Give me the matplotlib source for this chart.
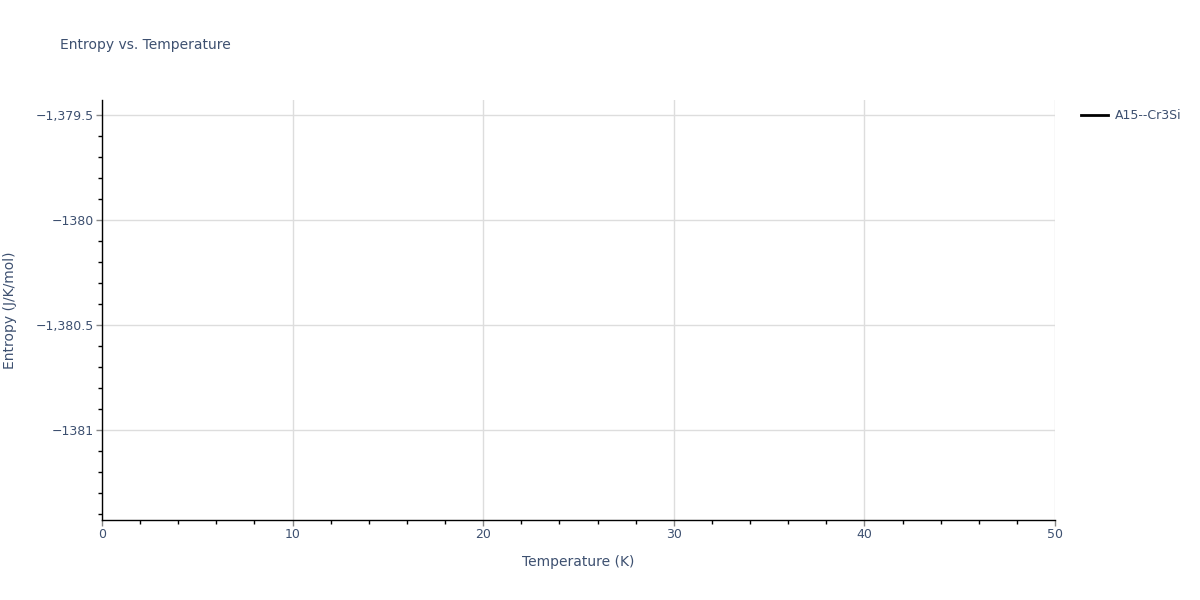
import matplotlib
matplotlib.use('Agg')
import matplotlib.pyplot as plt
from matplotlib.ticker import FixedLocator, MultipleLocator

# data: a single point, so the line draws nothing visible
temperature = [0.0]
entropy = [-1380.4286]
series_name = 'A15--Cr3Si'

x_ticks = [0, 10, 20, 30, 40, 50]
y_ticks = [-1381.0, -1380.5, -1380.0, -1379.5]
y_labels = ['\u22121381', '\u22121,380.5', '\u22121380', '\u22121,379.5']

txt = '#3d5070'
plt.rcParams['font.family'] = ['DejaVu Sans']

fig = plt.figure(figsize=(12, 6), dpi=100)
ax = fig.add_axes([102 / 1200, 1 - 520 / 600, (1055 - 102) / 1200, 420 / 600])

ax.plot(temperature, entropy, color='black', lw=2, label=series_name)

ax.set_xlim(0, 50)
ax.set_ylim(-1381.4286, -1379.4286)
ax.xaxis.set_major_locator(FixedLocator(x_ticks))
ax.xaxis.set_minor_locator(MultipleLocator(2))
ax.yaxis.set_major_locator(FixedLocator(y_ticks))
ax.yaxis.set_minor_locator(MultipleLocator(0.1))
ax.set_yticklabels(y_labels)
ax.set_xticklabels([str(t) for t in x_ticks])

ax.grid(True, which='major', color='#dddddd', lw=1)
ax.set_axisbelow(True)
for s in ['top', 'right']:
    ax.spines[s].set_visible(False)
for s in ['left', 'bottom']:
    ax.spines[s].set_color('black')
    ax.spines[s].set_linewidth(1)

ax.tick_params(which='major', direction='out', length=4, width=1, color='#888888',
               labelsize=9, labelcolor=txt, pad=2)
ax.tick_params(which='minor', direction='out', length=3, width=1, color='black')

ax.set_xlabel('Temperature (K)', fontsize=10, color=txt, labelpad=10)
ax.set_ylabel('Entropy (J/K/mol)', fontsize=10, color=txt, va='center')
ax.yaxis.set_label_coords((10 - 102) / 953, 0.5)

fig.text(60 / 1200, 1 - 45 / 600, 'Entropy vs. Temperature', fontsize=10,
         color=txt, va='center', ha='left')

leg = ax.legend(loc='upper left', bbox_to_anchor=(1.022, 0.99), frameon=False,
                fontsize=9, handlelength=2.2, handletextpad=0.5, borderaxespad=0)
for t in leg.get_texts():
    t.set_color(txt)

fig.savefig('out.png', dpi=100)
